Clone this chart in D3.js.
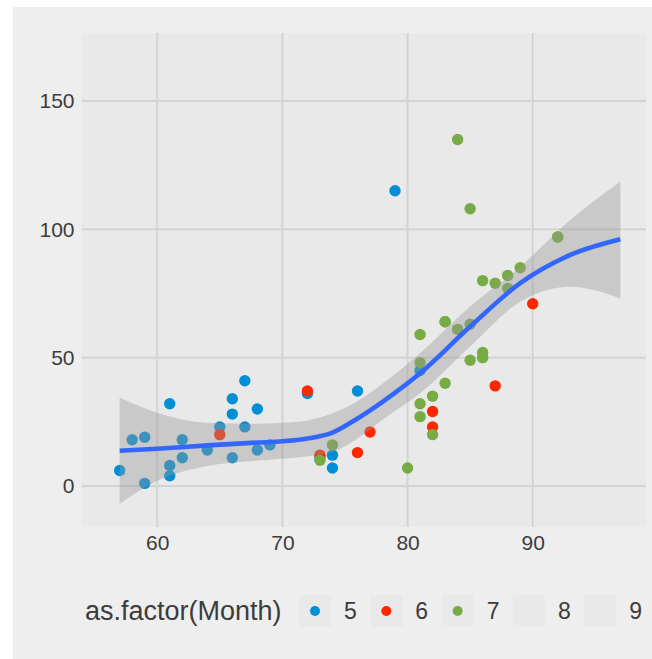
<!DOCTYPE html>
<html><head><meta charset="utf-8">
<script src="https://cdn.jsdelivr.net/npm/d3@7"></script>
<style>html,body{margin:0;padding:0;background:#fff;}svg{display:block;}</style>
</head><body>
<script>
// ---- data (airquality Ozone vs Temp, months 5-7 drawn) ----
const monthLevels = ["5", "6", "7", "8", "9"];
const monthColors = ["#008FD5", "#FF2700", "#77AB43", null, null];

const may = [[67,41],[72,36],[74,12],[62,18],[66,28],[65,23],[59,19],[61,8],[74,7],[69,16],[66,11],[68,14],[58,18],[64,14],[66,34],[57,6],[68,30],[62,11],[59,1],[73,11],[61,4],[61,32],[67,23],[81,45],[79,115],[76,37]];
const june = [[82,29],[90,71],[87,39],[82,23],[77,21],[72,37],[65,20],[73,12],[76,13]];
const july = [[84,135],[85,49],[81,32],[83,64],[83,40],[88,77],[92,97],[92,97],[89,85],[73,10],[81,27],[80,7],[81,48],[82,35],[84,61],[87,79],[85,63],[74,16],[86,80],[85,108],[82,20],[86,52],[88,82],[86,50],[83,64],[81,59]];

// loess smooth
const smoothTemp  = [57, 60, 64, 68, 70, 72, 74, 76, 78, 81, 85, 89, 93, 97];
const smoothFit   = [13.7, 14.5, 15.8, 16.9, 17.4, 18.5, 20.8, 26.3, 32.8, 43.9, 62.1, 79.0, 90.0, 96.1];
const smoothUpper = [34.5, 28.5, 24.6, 24.2, 24.6, 25.5, 28.3, 33.0, 39.8, 51.7, 69.9, 85.4, 103.6, 118.5];
const smoothLower = [-7.0, 2.0, 7.8, 9.9, 10.6, 11.6, 13.2, 18.5, 25.8, 36.1, 54.3, 71.8, 77.6, 73.1];

const xTicks = [60, 70, 80, 90];
const yTicks = [0, 50, 100, 150];
const legendTitle = "as.factor(Month)";

// ---- drawing ----
const W = 652, H = 659;
const svg = d3.select("body").append("svg").attr("width", W).attr("height", H);
svg.append("rect").attr("x", 13).attr("y", 7).attr("width", W - 13).attr("height", H - 7).attr("fill", "#EEEEEE");

const P = {l: 81.5, r: 646, t: 33, b: 527};
const x = d3.scaleLinear().domain([53.95, 99.05]).range([P.l, P.r]);
const y = d3.scaleLinear().domain([-16.0, 176.5]).range([P.b, P.t]);

svg.append("rect").attr("x", P.l).attr("y", P.t).attr("width", P.r - P.l).attr("height", P.b - P.t).attr("fill", "#E9E9E9");

const grid = svg.append("g").attr("stroke", "#D3D3D3").attr("stroke-width", 2);
grid.selectAll("line.v").data(xTicks).join("line").attr("class", "v")
  .attr("x1", d => x(d)).attr("x2", d => x(d)).attr("y1", P.t).attr("y2", P.b);
grid.selectAll("line.h").data(yTicks).join("line").attr("class", "h")
  .attr("x1", P.l).attr("x2", P.r).attr("y1", d => y(d)).attr("y2", d => y(d));

// axes text via d3 axes (no ticks/domain)
const fontFam = "'Liberation Sans', Arial, Helvetica, sans-serif";
const xAxis = svg.append("g").attr("transform", `translate(0,${P.b})`)
  .call(d3.axisBottom(x).tickValues(xTicks).tickSize(0).tickPadding(8));
const yAxis = svg.append("g").attr("transform", `translate(${P.l},0)`)
  .call(d3.axisLeft(y).tickValues(yTicks).tickSize(0).tickPadding(7));
[xAxis, yAxis].forEach(a => {
  a.select(".domain").remove();
  a.selectAll("text").attr("fill", "#3C3C3C").style("font-family", fontFam).style("font-size", "21px");
});

// points
const pts = svg.append("g");
[may, june, july].forEach((arr, i) => {
  pts.selectAll(null).data(arr).join("circle")
    .attr("cx", d => x(d[0])).attr("cy", d => y(d[1])).attr("r", 5.7)
    .attr("fill", monthColors[i]);
});

// smooth ribbon + line
const sm = smoothTemp.map((t, i) => ({t, f: smoothFit[i], lo: smoothLower[i], hi: smoothUpper[i]}));
svg.append("path").datum(sm)
  .attr("d", d3.area().x(d => x(d.t)).y0(d => y(d.lo)).y1(d => y(d.hi)).curve(d3.curveMonotoneX))
  .attr("fill", "#999999").attr("fill-opacity", 0.4);
svg.append("path").datum(sm)
  .attr("d", d3.line().x(d => x(d.t)).y(d => y(d.f)).curve(d3.curveMonotoneX))
  .attr("fill", "none").attr("stroke", "#3366FF").attr("stroke-width", 4.6);

// legend
const leg = svg.append("g");
const legY = 611;
leg.append("text").attr("x", 85).attr("y", legY).attr("dy", "0.35em")
  .style("font-family", fontFam).style("font-size", "27px").attr("fill", "#3C3C3C").text(legendTitle);
const keyX = d3.scalePoint().domain(monthLevels).range([299, 584.3]);
const keys = leg.selectAll("g.key").data(monthLevels).join("g").attr("class", "key")
  .attr("transform", d => `translate(${keyX(d)},${legY - 16})`);
keys.append("rect").attr("width", 32).attr("height", 32).attr("fill", "#E9E9E9");
keys.filter((d, i) => monthColors[i]).append("circle").attr("cx", 16).attr("cy", 16).attr("r", 5)
  .attr("fill", (d) => monthColors[monthLevels.indexOf(d)]);
keys.append("text").attr("x", 45).attr("y", 16).attr("dy", "0.35em")
  .style("font-family", fontFam).style("font-size", "23px").attr("fill", "#3C3C3C").text(d => d);
</script>
</body></html>
